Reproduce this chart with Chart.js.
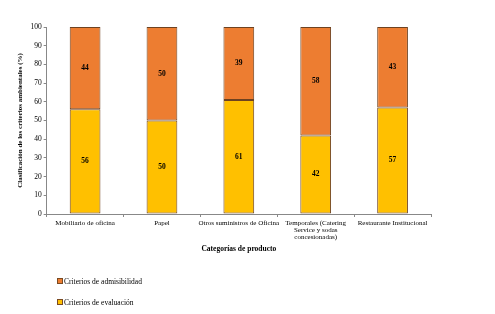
<!DOCTYPE html>
<html>
<head>
<meta charset="utf-8">
<script src="https://cdn.jsdelivr.net/npm/chart.js@4.4.0/dist/chart.umd.min.js"></script>
<style>
  body { margin: 0; background: #fff; }
  #wrap { position: relative; width: 495px; height: 314px; }
  #legend { position: absolute; left: 57px; top: 276px; font-family: "Liberation Serif", serif; font-size: 7.5px; color: #000; }
  #legend .item { display: flex; align-items: center; height: 10px; margin-bottom: 11px; }
  #legend .box { width: 4px; height: 4px; border: 1px solid #7a4a22; margin-right: 1px; }
</style>
</head>
<body>
<div id="wrap">
  <canvas id="myChart" width="495" height="314"></canvas>
  <div id="legend"></div>
</div>
<script>
const categories = [
  "Mobiliario de oficina",
  "Papel",
  "Otros suministros de Oficina",
  ["Temporales (Catering", "Service y sodas", "concesionadas)"],
  "Restaurante Institucional"
];
const evaluacion = [56, 50, 61, 42, 57];
const admisibilidad = [44, 50, 39, 58, 43];
const yTicks = [0, 10, 20, 30, 40, 50, 60, 70, 80, 90, 100];

const serif = "'Liberation Serif', 'Times New Roman', serif";

// draw the numbers in the middle of every bar segment
const barLabels = {
  id: 'barLabels',
  afterDatasetsDraw(chart) {
    const ctx = chart.ctx;
    ctx.save();
    ctx.font = "bold 7.5px " + serif;
    ctx.fillStyle = "#000";
    ctx.textAlign = "center";
    ctx.textBaseline = "middle";
    chart.data.datasets.forEach((ds, i) => {
      chart.getDatasetMeta(i).data.forEach((bar, j) => {
        const y = (bar.y + bar.base) / 2;
        ctx.fillText(ds.data[j], bar.x, y);
      });
    });
    ctx.restore();
  }
};

const ctx = document.getElementById('myChart');
const chart = new Chart(ctx, {
  type: 'bar',
  data: {
    labels: categories,
    datasets: [
      {
        label: 'Criterios de evaluación',
        data: evaluacion,
        backgroundColor: '#ffc000',
        borderColor: '#6e4220',
        borderWidth: 1,
        borderSkipped: false
      },
      {
        label: 'Criterios de admisibilidad',
        data: admisibilidad,
        backgroundColor: '#ed7d31',
        borderColor: '#6e4220',
        borderWidth: 1,
        borderSkipped: false
      }
    ]
  },
  options: {
    responsive: false,
    animation: false,
    devicePixelRatio: 1,
    layout: { padding: { left: 12, right: 64, top: 27, bottom: 56 } },
    datasets: { bar: { barPercentage: 0.4, categoryPercentage: 1 } },
    scales: {
      x: {
        stacked: true,
        grid: { offset: true, drawOnChartArea: false, tickLength: 3, color: '#888' },
        border: { color: '#888' },
        ticks: { color: '#000', font: { family: serif, size: 7, lineHeight: 1 }, padding: 3, maxRotation: 0, autoSkip: false },
        title: { display: true, text: 'Categorías de producto', color: '#000', font: { family: serif, size: 7.5, weight: 'bold' }, padding: { top: 1 } }
      },
      y: {
        stacked: true,
        min: 0,
        max: 100,
        afterBuildTicks: axis => { axis.ticks = yTicks.map(v => ({ value: v })); },
        grid: { drawOnChartArea: false, tickLength: 3, color: '#888' },
        border: { color: '#888' },
        ticks: { color: '#000', font: { family: serif, size: 7.5 }, padding: 2 },
        title: { display: true, text: 'Clasificación de los criterios ambientales (%)', color: '#000', font: { family: serif, size: 7, weight: 'bold' }, padding: { bottom: 4 } }
      }
    },
    plugins: {
      legend: { display: false },
      tooltip: { enabled: false }
    }
  },
  plugins: [barLabels]
});

// legend below the chart, one item per line, admisibilidad first
const legend = document.getElementById('legend');
[...chart.data.datasets].reverse().forEach(ds => {
  const item = document.createElement('div');
  item.className = 'item';
  item.innerHTML = `<span class="box" style="background:${ds.backgroundColor}"></span>${ds.label}`;
  legend.appendChild(item);
});
</script>
</body>
</html>
